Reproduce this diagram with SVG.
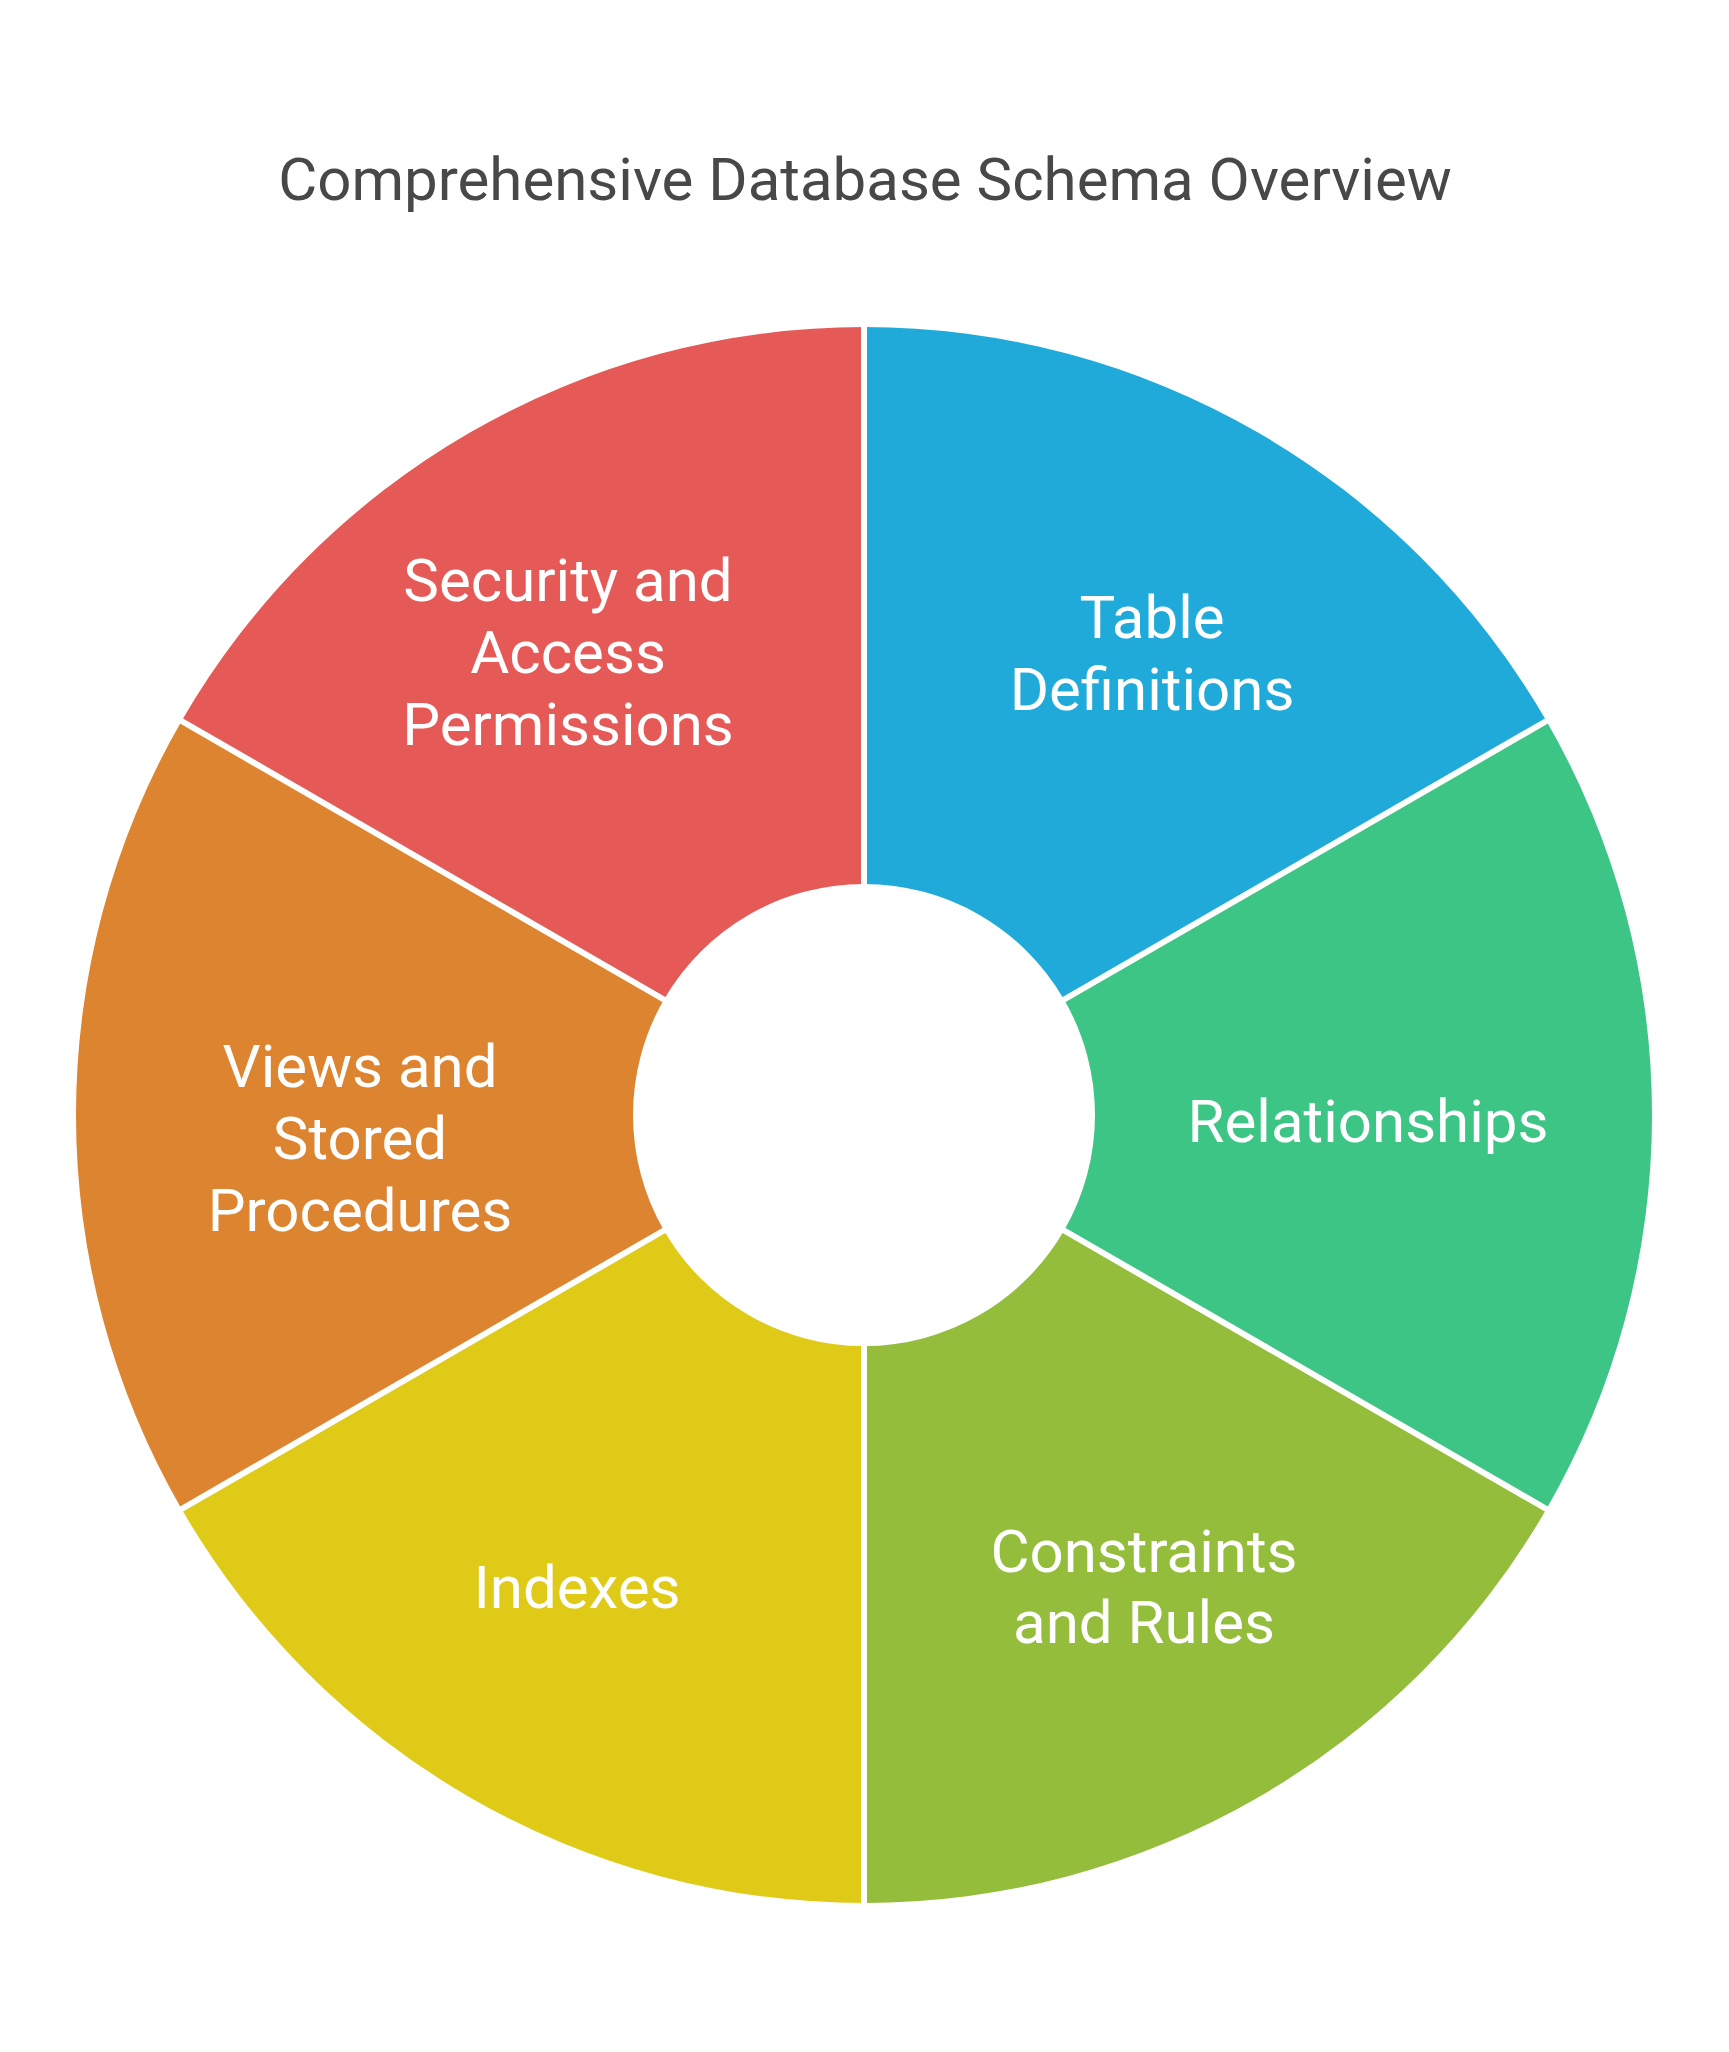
<svg xmlns="http://www.w3.org/2000/svg" width="1729" height="2052" viewBox="0 0 1729 2052">
  <style>
    .title { font-family: Roboto, "Liberation Sans", sans-serif; font-size: 60px; fill: #484848; text-anchor: middle; }
    .label { font-family: Roboto, "Liberation Sans", sans-serif; font-size: 60px; fill: #ffffff; text-anchor: middle; }
    .sep { stroke: #ffffff; stroke-width: 6; stroke-linecap: butt; }
  </style>
  <rect width="1729" height="2052" fill="#ffffff"/>

  <text class="title" x="865" y="200">Comprehensive Database Schema Overview</text>

  <!-- ring segments, centre (864,1115), outer r 788, inner r 231 -->
  <g id="table-definitions">
    <path d="M864 327 A788 788 0 0 1 1546.43 721 L1064.05 999.5 A231 231 0 0 0 864 884 Z" fill="#20AAD9"/>
    <text class="label" x="1152" y="638">Table</text>
    <text class="label" x="1152" y="710">Definitions</text>
  </g>
  <g id="relationships">
    <path d="M1546.43 721 A788 788 0 0 1 1546.43 1509 L1064.05 1230.5 A231 231 0 0 0 1064.05 999.5 Z" fill="#3DC585"/>
    <text class="label" x="1368" y="1142">Relationships</text>
  </g>
  <g id="constraints-and-rules">
    <path d="M1546.43 1509 A788 788 0 0 1 864 1903 L864 1346 A231 231 0 0 0 1064.05 1230.5 Z" fill="#93BD3B"/>
    <text class="label" x="1144" y="1572">Constraints</text>
    <text class="label" x="1144" y="1643">and Rules</text>
  </g>
  <g id="indexes">
    <path d="M864 1903 A788 788 0 0 1 181.57 1509 L663.95 1230.5 A231 231 0 0 0 864 1346 Z" fill="#DFCB17"/>
    <text class="label" x="577" y="1608">Indexes</text>
  </g>
  <g id="views-and-stored-procedures">
    <path d="M181.57 1509 A788 788 0 0 1 181.57 721 L663.95 999.5 A231 231 0 0 0 663.95 1230.5 Z" fill="#DD8430"/>
    <text class="label" x="360" y="1087">Views and</text>
    <text class="label" x="360" y="1159">Stored</text>
    <text class="label" x="360" y="1231">Procedures</text>
  </g>
  <g id="security-and-access-permissions">
    <path d="M181.57 721 A788 788 0 0 1 864 327 L864 884 A231 231 0 0 0 663.95 999.5 Z" fill="#E55A56"/>
    <text class="label" x="568" y="601">Security and</text>
    <text class="label" x="568" y="673">Access</text>
    <text class="label" x="568" y="745">Permissions</text>
  </g>

  <!-- white gaps between segments -->
  <g id="separators">
    <line class="sep" x1="864" y1="890" x2="864" y2="320"/>
    <line class="sep" x1="1058.9" y1="1002.5" x2="1552.5" y2="717.5"/>
    <line class="sep" x1="1058.9" y1="1227.5" x2="1552.5" y2="1512.5"/>
    <line class="sep" x1="864" y1="1340" x2="864" y2="1910"/>
    <line class="sep" x1="669.1" y1="1227.5" x2="175.5" y2="1512.5"/>
    <line class="sep" x1="669.1" y1="1002.5" x2="175.5" y2="717.5"/>
  </g>
</svg>
